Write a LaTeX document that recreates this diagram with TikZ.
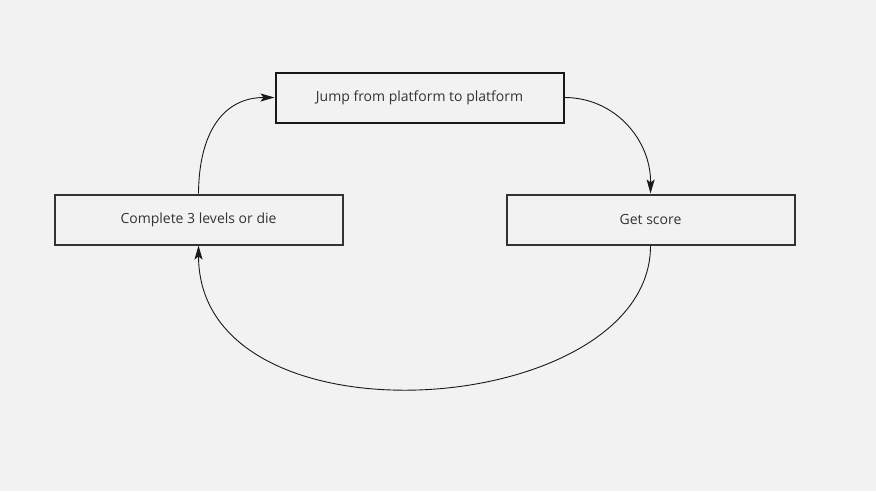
\documentclass[tikz,border=0pt]{standalone}
\usepackage{fontspec}
\setmainfont{Open Sans}
\usetikzlibrary{arrows.meta}
\definecolor{bg}{HTML}{F2F2F2}
\definecolor{txt}{HTML}{333333}
\begin{document}
\begin{tikzpicture}[x=1pt,y=-1pt,
  box/.style={draw=#1,line width=2pt,fill=bg,minimum width=288pt,minimum height=50pt,inner sep=0pt,text=txt,font=\fontsize{14}{16}\selectfont},
  conn/.style={line width=0.9pt,draw=black!90,-{Stealth[length=14pt,width=8pt,inset=3pt]}}]
\fill[bg] (0,0) rectangle (876,491);
\useasboundingbox (0,0) rectangle (876,491);
\node[box=black!90] (jump) at (419.5,97.5) {Jump from platform to platform};
\node[box=black!80] (comp) at (198.5,219.5) {Complete 3 levels or die};
\node[box=black!80] (score) at (650.5,219.5) {Get score};
\draw[conn] (comp.north) .. controls (199,130) and (225,97.5) .. (jump.west);
\draw[conn] (jump.east) .. controls (615,97.5) and (651,140) .. (score.north);
\draw[conn] (score.south) .. controls (651,419) and (199,453) .. (comp.south);
\end{tikzpicture}
\end{document}
